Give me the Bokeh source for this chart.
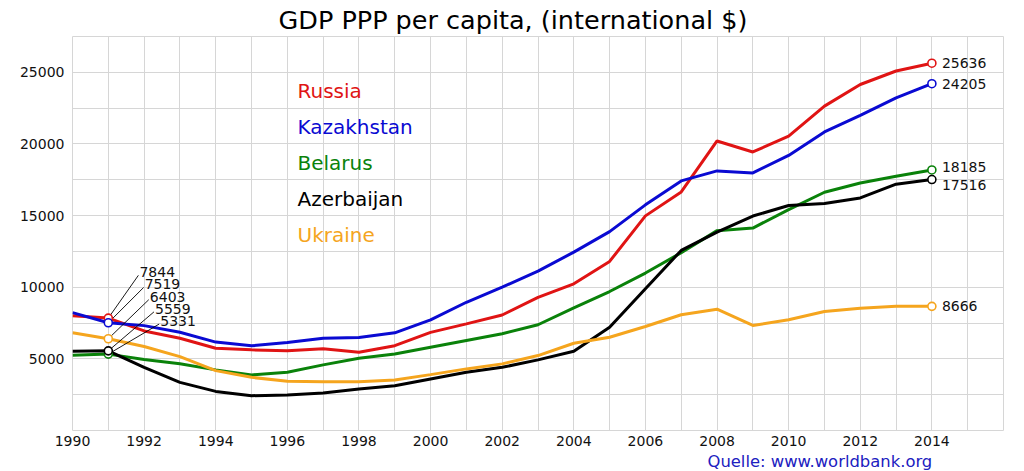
from bokeh.plotting import figure
from bokeh.models import Range1d, FixedTicker, Label, Title
from bokeh.core.properties import value
from bokeh.embed import file_html
from bokeh.resources import INLINE

years = list(range(1990, 2015))
russia = [8010, 7844, 6950, 6440, 5740, 5630, 5560, 5700, 5460, 5920, 6850, 7440, 8060,
          9290, 10240, 11800, 14980, 16650, 20210, 19440, 20540, 22640, 24150, 25090, 25636]
kazakhstan = [8230, 7519, 7320, 6860, 6170, 5910, 6150, 6440, 6490, 6820, 7720, 8950, 10000,
              11120, 12450, 13880, 15750, 17420, 18120, 17980, 19200, 20840, 21990, 23220, 24205]
belarus = [5250, 5331, 4950, 4660, 4230, 3880, 4060, 4580, 5040, 5340, 5810, 6280, 6750,
           7380, 8560, 9700, 10990, 12410, 13950, 14130, 15420, 16630, 17280, 17750, 18185]
azerbaijan = [5530, 5559, 4410, 3360, 2730, 2430, 2480, 2620, 2900, 3130, 3600, 4060, 4410,
              4930, 5530, 7210, 9900, 12570, 13850, 14970, 15700, 15840, 16230, 17190, 17516]
ukraine = [6820, 6403, 5860, 5160, 4180, 3710, 3430, 3410, 3410, 3530, 3900, 4300, 4650,
           5230, 6090, 6510, 7260, 8080, 8470, 7330, 7730, 8310, 8540, 8680, 8666]

names = ["Russia", "Kazakhstan", "Belarus", "Azerbaijan", "Ukraine"]
colors = ["#e01414", "#0a0ad2", "#0a820a", "#000000", "#f5a51e"]
series = [russia, kazakhstan, belarus, azerbaijan, ukraine]

x_label_ticks = list(range(1990, 2015, 2))
x_grid_ticks = list(range(1990, 2017))
y_label_ticks = [5000, 10000, 15000, 20000, 25000]
y_grid_ticks = list(range(0, 27501, 2500))

title_text = "GDP PPP per capita, (international $)"
source_text = "Quelle: www.worldbank.org"

FONT = "DejaVu Sans"

p = figure(width=1024, height=471, output_backend="svg", toolbar_location=None,
           title=None, x_range=Range1d(1990, 2016), y_range=Range1d(0, 27500),
           min_border_left=72, min_border_right=21, min_border_top=36, min_border_bottom=41)
p.background_fill_color = "white"
p.outline_line_color = "#d6d6d6"

p.xaxis.ticker = FixedTicker(ticks=x_label_ticks, minor_ticks=x_grid_ticks)
p.yaxis.ticker = FixedTicker(ticks=y_label_ticks, minor_ticks=y_grid_ticks)
for ax in (p.xaxis, p.yaxis):
    ax.axis_line_color = None
    ax.major_tick_line_color = None
    ax.minor_tick_line_color = None
    ax.major_tick_out = 0
    ax.major_tick_in = 0
    ax.minor_tick_out = 0
    ax.major_label_text_font = FONT
    ax.major_label_text_font_size = "14px"
    ax.major_label_text_color = "#111111"
p.yaxis.major_label_standoff = 8
p.xaxis.major_label_standoff = 5

for g in (p.xgrid, p.ygrid):
    g.grid_line_color = "#d6d6d6"
    g.grid_line_width = 1
    g.minor_grid_line_color = "#d6d6d6"
    g.minor_grid_line_width = 1

# title (above) and source (below)
p.add_layout(Title(text=title_text, align="left", offset=206, text_font=FONT,
                   text_font_size="25.5px", text_font_style="normal", text_color="black",
                   standoff=4), "above")
p.add_layout(Title(text=source_text, align="left", offset=635, text_font=FONT,
                   text_font_size="16.4px", text_font_style="normal", text_color="#2020c0",
                   standoff=2), "below")

# lines
for vals, c in zip(series, colors):
    p.line(years, vals, line_color=c, line_width=3)

# leader lines and start labels at 1991 (order top to bottom)
order = [0, 1, 4, 3, 2]
for i, k in enumerate(order):
    lx = 1991 + 0.87 + 0.145 * i
    ly = 11050 - 850 * i
    p.segment(x0=[years[1]], y0=[series[k][1]], x1=[lx - 0.03], y1=[ly - 220],
              line_color="black", line_width=0.9)
    p.text(x=[lx], y=[ly], text=[str(series[k][1])], text_font=value(FONT),
           text_font_size="14px", text_baseline="middle", text_align="left",
           text_color="#111111")

# markers
for vals, c in zip(series, colors):
    p.scatter([years[1], years[-1]], [vals[1], vals[-1]], marker="circle", size=8,
              fill_color="white", line_color=c, line_width=1.6)

# end labels
end_offsets = [0, 0, -3, 5, 0]
for vals, off in zip(series, end_offsets):
    p.text(x=[years[-1]], y=[vals[-1]], text=[str(vals[-1])], text_font=value(FONT),
           text_font_size="14px", text_baseline="middle", text_align="left",
           x_offset=10, y_offset=off, text_color="#111111")

# legend texts
for i, (n, c) in enumerate(zip(names, colors)):
    p.add_layout(Label(x=225, y=340 - 36 * i, x_units="screen", y_units="screen", text=n,
                       text_font=FONT, text_font_size="20px", text_color=c,
                       text_baseline="middle", text_align="left"))

open("out.html", "w").write(file_html(p, INLINE))
